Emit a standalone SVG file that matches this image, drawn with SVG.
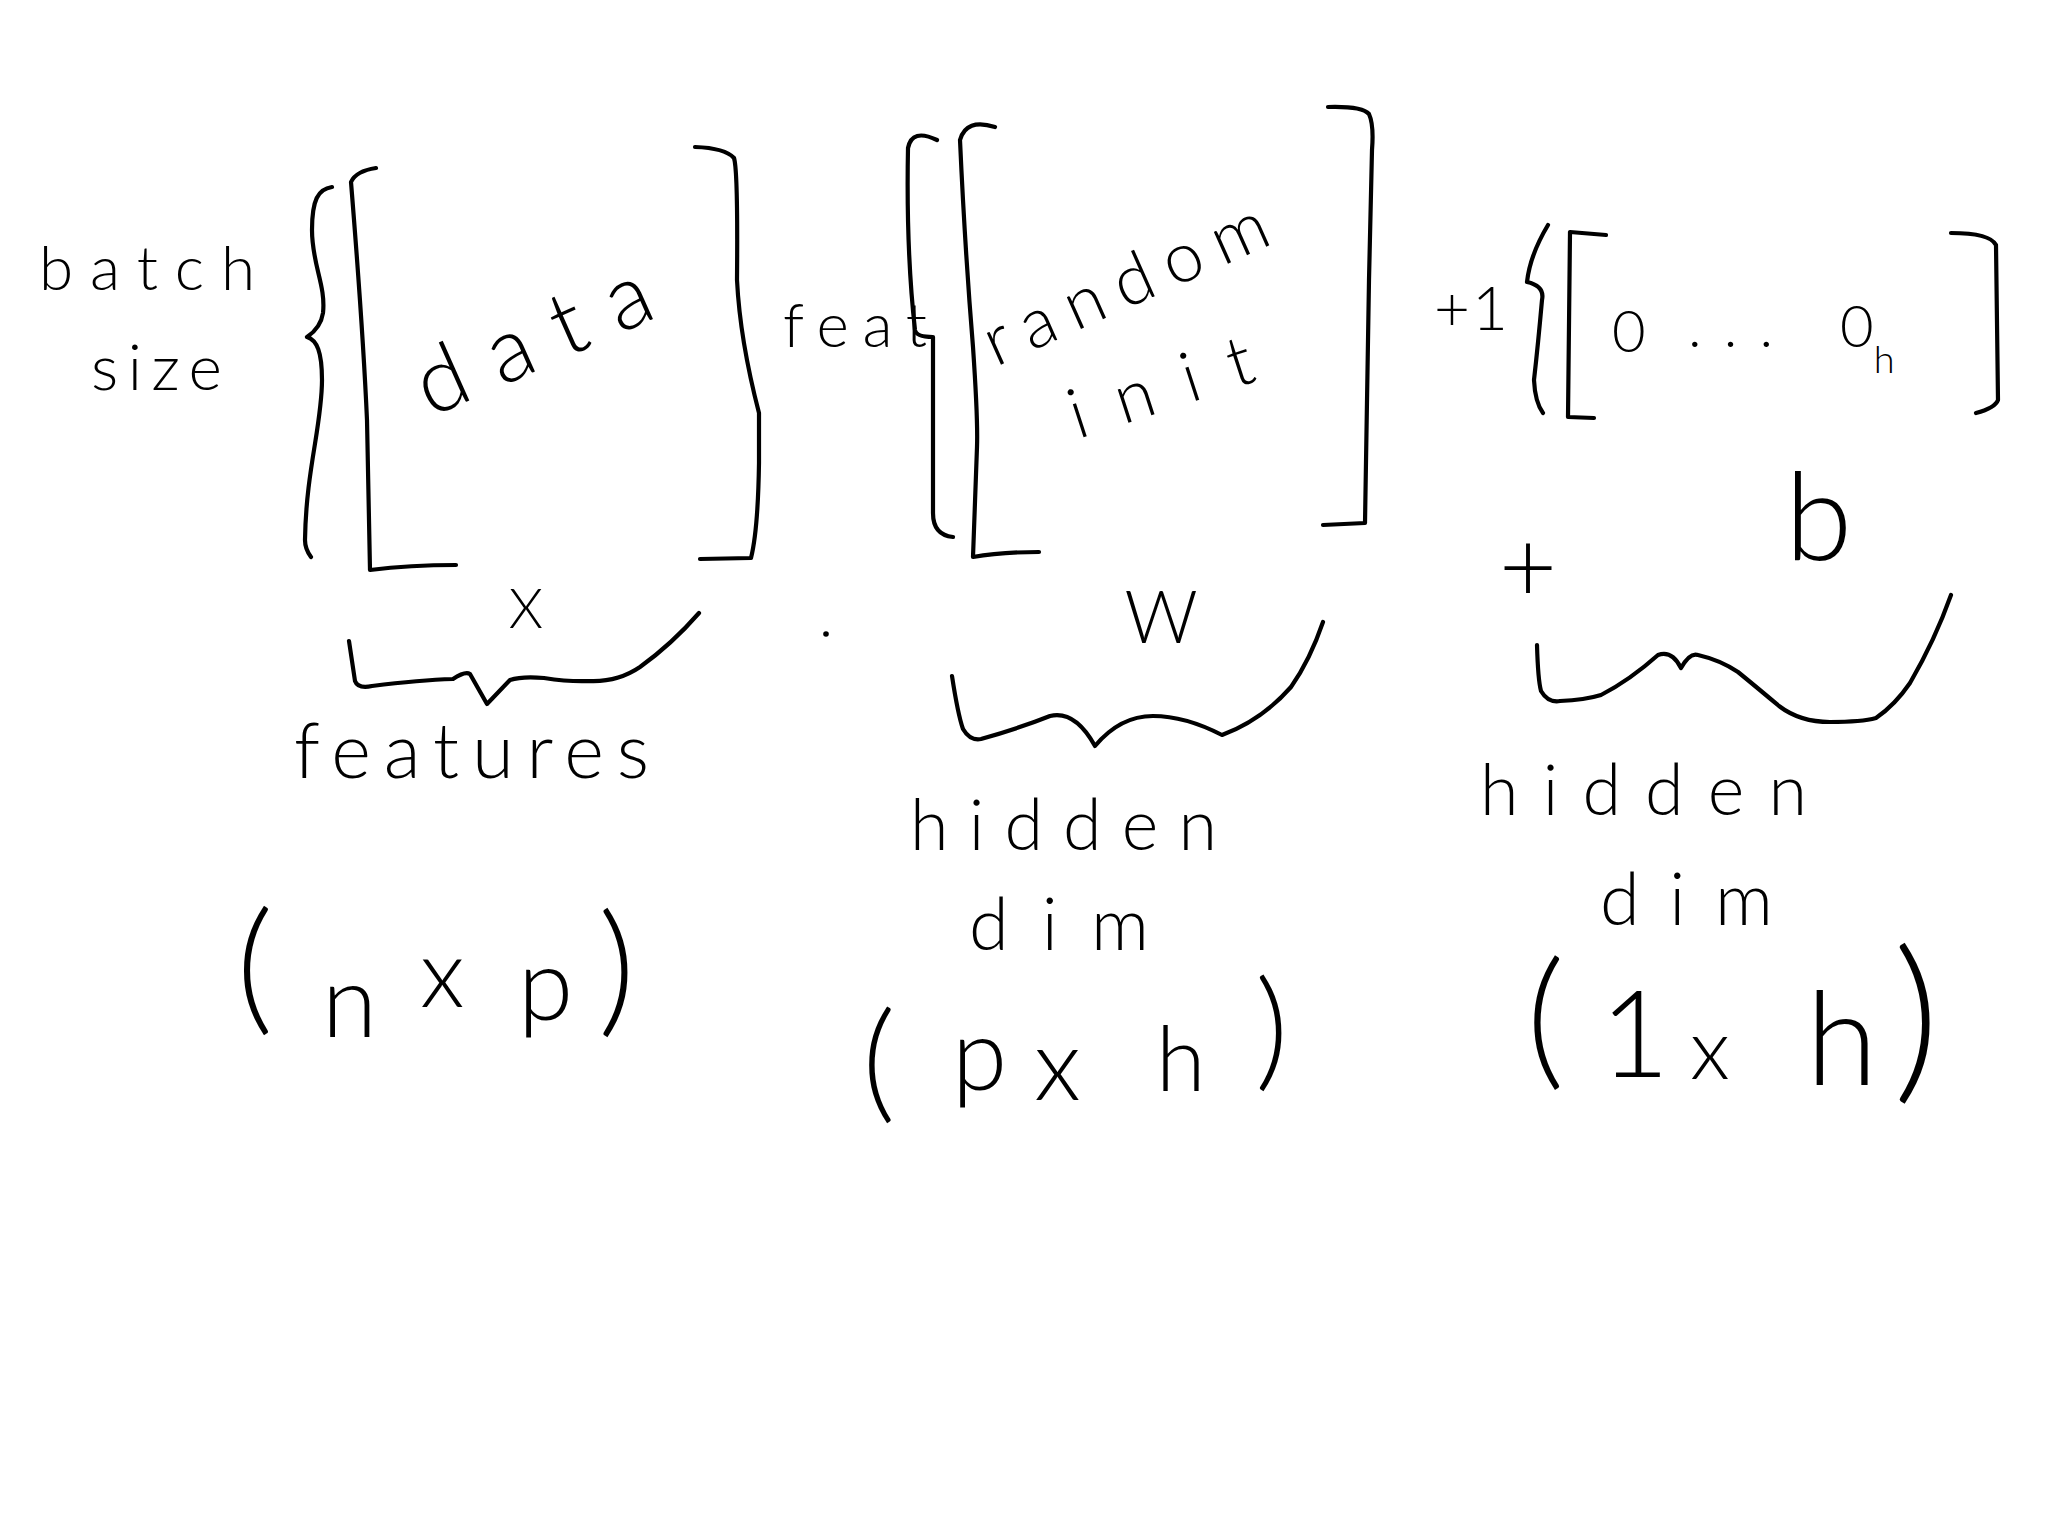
<svg xmlns="http://www.w3.org/2000/svg" width="2048" height="1536" viewBox="0 0 2048 1536">
<style>
.ink{fill:none;stroke:#000;stroke-width:4.2;stroke-linecap:round;stroke-linejoin:round}
.t{font-family:"Lato","Liberation Sans",Arial,sans-serif;font-weight:300;fill:#000}
</style>
<rect width="2048" height="1536" fill="#fff"/>

<g id="batch-size">
  <text class="t" x="39" y="290" font-size="62" textLength="216" lengthAdjust="spacing">batch</text>
  <text class="t" x="91" y="390" font-size="64" textLength="131" lengthAdjust="spacing">size</text>
  <path class="ink" d="M332,187 C318,189 312,200 312,230 C312,265 326,285 323,313 C321,326 313,333 307,337 C317,340 322,352 322,380 C322,425 306,470 305,540 C305,548 308,553 311,557"/>
</g>

<g id="matrix-X">
  <path class="ink" d="M376,168 Q356,171 351,182 Q363,330 367,420 L370,570 Q410,565 456,565"/>
  <path class="ink" d="M695,147 Q725,148 734,158 Q738,170 737,280 Q740,340 759,413 L759,463 Q758,530 751,558 L700,559"/>
  <text class="t" transform="translate(545,367) rotate(-24)" text-anchor="middle" font-size="90" textLength="250" lengthAdjust="spacing">data</text>
  <text class="t" x="526" y="628" text-anchor="middle" font-size="55">X</text>
  <path class="ink" d="M349,641 L355,681 Q358,689 372,686 Q420,680 453,679 Q465,671 470,674 L487,704 L510,680 Q522,676 544,678 Q570,682 590,681 Q618,682 640,667 Q672,644 699,613"/>
  <text class="t" x="294" y="778" font-size="76" textLength="355" lengthAdjust="spacing">features</text>
  <text class="t" y="1016" font-size="145"><tspan x="236">(</tspan><tspan x="322" y="1037" font-size="100">n</tspan><tspan x="420" y="1007" font-size="95">x</tspan><tspan x="518" y="1020" font-size="100">p</tspan><tspan x="598" y="1018" font-size="145">)</tspan></text>
</g>

<g id="feat-label">
  <text class="t" x="783" y="347" font-size="62" textLength="144" lengthAdjust="spacing">feat</text>
</g>

<circle cx="826" cy="634" r="2.8" fill="#000"/>

<g id="matrix-W">
  <path class="ink" d="M937,140 Q912,128 908,148 Q906,250 915,330 Q916,337 933,337 L933,513 Q933,535 953,537"/>
  <path class="ink" d="M995,127 Q966,118 960,140 Q965,250 973,347 Q978,420 977,447 L973,557 Q1000,552 1039,552"/>
  <path class="ink" d="M1328,107 Q1362,106 1369,114 Q1374,125 1372,150 L1369,280 L1365,523 L1323,525"/>
  <text class="t" transform="translate(1135,305) rotate(-24)" text-anchor="middle" font-size="70" textLength="305" lengthAdjust="spacing">random</text>
  <text class="t" transform="translate(1168,410) rotate(-18)" text-anchor="middle" font-size="70" textLength="190" lengthAdjust="spacing">init</text>
  <text class="t" x="1161" y="643" text-anchor="middle" font-size="72">W</text>
  <path class="ink" d="M952,676 Q958,715 963,729 Q970,741 981,739 Q1020,728 1050,716 Q1075,710 1095,746 Q1120,716 1153,716 Q1185,716 1222,735 Q1262,720 1291,687 Q1310,660 1323,622"/>
  <text class="t" x="910" y="850" font-size="70" textLength="307" lengthAdjust="spacing">hidden</text>
  <text class="t" x="969" y="950" font-size="72" textLength="180" lengthAdjust="spacing">dim</text>
  <text class="t" y="1106" font-size="130"><tspan x="862">(</tspan><tspan x="952" y="1090" font-size="100">p</tspan><tspan x="1034" y="1100" font-size="100">x</tspan><tspan x="1156" y="1091" font-size="90">h</tspan><tspan x="1255" y="1074" font-size="130">)</tspan></text>
</g>

<g id="plus-one">
  <text class="t" x="1434" y="330" font-size="62" textLength="74" lengthAdjust="spacing">+1</text>
</g>

<g id="vector-b">
  <path class="ink" d="M1548,225 Q1530,255 1527,282 Q1545,286 1542,300 Q1538,345 1534,380 Q1535,402 1543,413"/>
  <path class="ink" d="M1606,235 L1570,232 L1568,417 L1594,418"/>
  <path class="ink" d="M1951,233 Q1990,233 1996,245 L1998,400 Q1995,408 1976,413"/>
  <text class="t" x="1612" y="352" font-size="58">0</text>
  <text class="t" x="1688" y="347" font-size="58" textLength="85" lengthAdjust="spacing">...</text>
  <text class="t" x="1840" y="347" font-size="58">0<tspan y="373" font-size="38">h</tspan></text>
  <text class="t" x="1785" y="560" font-size="122">b</text>
  <text class="t" x="1528" y="602" text-anchor="middle" font-size="100">+</text>
  <path class="ink" d="M1537,645 Q1538,680 1541,691 Q1548,703 1560,701 Q1585,700 1601,695 Q1630,680 1658,655 Q1672,650 1681,668 Q1690,652 1698,655 Q1720,660 1738,672 Q1760,690 1779,706 Q1800,722 1830,722 Q1862,722 1876,718 Q1895,705 1910,683 Q1935,640 1951,595"/>
  <text class="t" x="1480" y="815" font-size="70" textLength="327" lengthAdjust="spacing">hidden</text>
  <text class="t" x="1600" y="925" font-size="72" textLength="173" lengthAdjust="spacing">dim</text>
  <text class="t" y="1070" font-size="150"><tspan x="1526">(</tspan><tspan x="1600" y="1077" font-size="120">1</tspan><tspan x="1690" y="1079" font-size="85">x</tspan><tspan x="1806" y="1085" font-size="130">h</tspan><tspan x="1893" y="1080" font-size="180">)</tspan></text>
</g>
</svg>
